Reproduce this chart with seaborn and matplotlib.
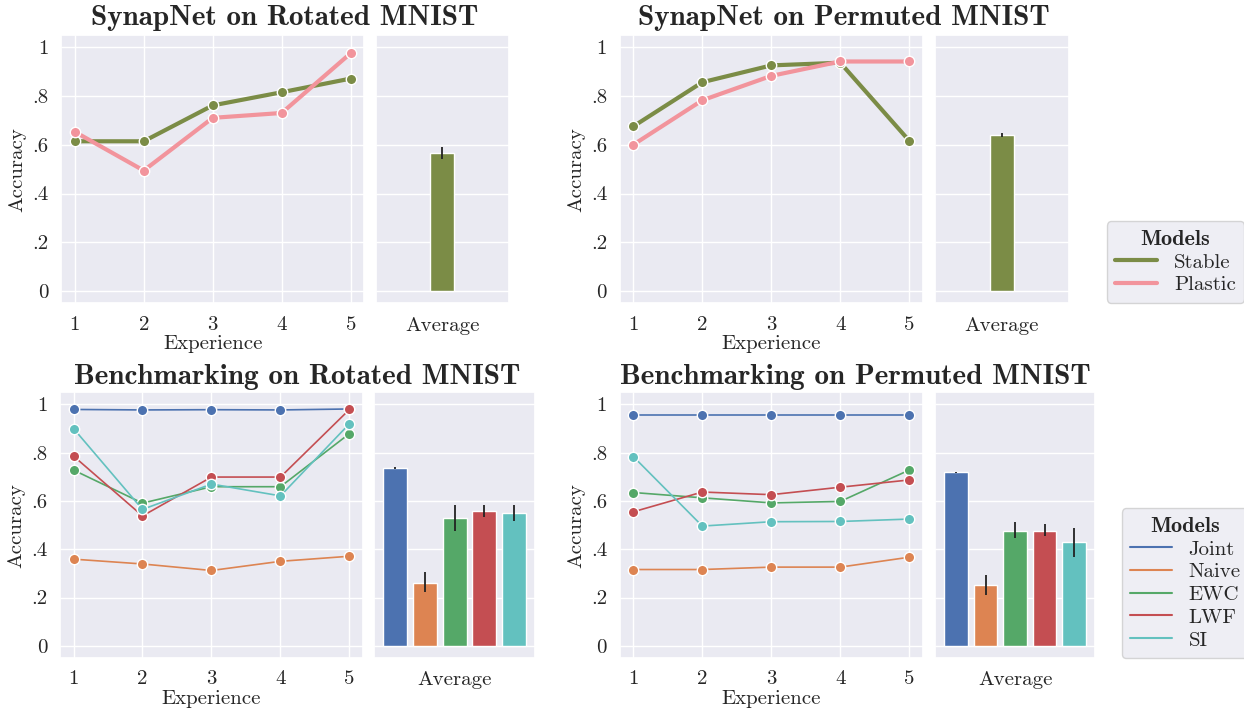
import numpy as np
import pandas as pd
import matplotlib
matplotlib.use("Agg")
import matplotlib.pyplot as plt
import seaborn as sns
from matplotlib.lines import Line2D

# experiences on the x axis
experiences = [1, 2, 3, 4, 5]

# SynapNet, rotated MNIST
rot_stable = [0.614, 0.614, 0.761, 0.815, 0.871]
rot_plastic = [0.653, 0.494, 0.710, 0.730, 0.975]
rot_syn_avg = [0.565]
rot_syn_err = [(0.540, 0.590)]

# SynapNet, permuted MNIST
perm_stable = [0.675, 0.856, 0.925, 0.936, 0.616]
perm_plastic = [0.600, 0.782, 0.882, 0.941, 0.941]
perm_syn_avg = [0.640]
perm_syn_err = [(0.633, 0.648)]

# benchmarks
bench_models = ["Joint", "Naive", "EWC", "LWF", "SI"]
rot_bench = {
    "Joint": [0.979, 0.977, 0.978, 0.977, 0.981],
    "Naive": [0.359, 0.339, 0.312, 0.350, 0.371],
    "EWC": [0.728, 0.591, 0.659, 0.659, 0.879],
    "LWF": [0.786, 0.538, 0.699, 0.699, 0.979],
    "SI": [0.900, 0.565, 0.670, 0.621, 0.920],
}
rot_bench_avg = [0.736, 0.262, 0.529, 0.558, 0.551]
rot_bench_err = [(0.733, 0.739), (0.224, 0.304), (0.475, 0.584), (0.533, 0.585), (0.519, 0.585)]

perm_bench = {
    "Joint": [0.956, 0.956, 0.956, 0.956, 0.956],
    "Naive": [0.316, 0.316, 0.326, 0.326, 0.367],
    "EWC": [0.635, 0.613, 0.592, 0.598, 0.728],
    "LWF": [0.555, 0.637, 0.626, 0.657, 0.687],
    "SI": [0.784, 0.496, 0.514, 0.515, 0.525],
}
perm_bench_avg = [0.718, 0.250, 0.477, 0.477, 0.430]
perm_bench_err = [(0.716, 0.720), (0.210, 0.293), (0.446, 0.514), (0.456, 0.504), (0.368, 0.490)]

syn_colors = {"Stable": "#7b8c46", "Plastic": "#f2949c"}
bench_colors = dict(zip(bench_models, ["#4c72b0", "#dd8452", "#55a868", "#c44e52", "#63c1bf"]))

sns.set_theme(style="darkgrid")
plt.rcParams["font.family"] = ["cmr10", "DejaVu Serif"]
plt.rcParams["axes.formatter.use_mathtext"] = True
plt.rcParams["mathtext.fontset"] = "cm"

TICK = 15
fig = plt.figure(figsize=(12.44, 7.12), dpi=100)

yticks = [0, 0.2, 0.4, 0.6, 0.8, 1.0]
ylabels = ["0", ".2", ".4", ".6", ".8", "1"]


def line_panel(ax, series, colors, lw):
    rows = []
    for name, vals in series.items():
        for e, v in zip(experiences, vals):
            rows.append({"Experience": e, "Accuracy": v, "Model": name})
    df = pd.DataFrame(rows)
    sns.lineplot(data=df, x="Experience", y="Accuracy", hue="Model", palette=colors,
                 marker="o", markersize=7.5, markeredgecolor="white", markeredgewidth=1,
                 linewidth=lw, ax=ax, legend=False)
    ax.set_xlim(0.8, 5.2)
    ax.set_ylim(-0.05, 1.05)
    ax.set_xticks(experiences)
    ax.set_xticklabels([str(e) for e in experiences], fontsize=TICK)
    ax.set_yticks(yticks)
    ax.set_yticklabels(ylabels, fontsize=TICK)
    ax.set_xlabel("Experience", fontsize=TICK, labelpad=1)
    ax.set_ylabel("Accuracy", fontsize=TICK, labelpad=4)
    ax.tick_params(pad=3)


def bar_panel(ax, names, avgs, errs, colors, width, gap):
    df = pd.DataFrame({"x": ["Average"] * len(names), "Model": names, "Accuracy": avgs})
    sns.barplot(data=df, x="x", y="Accuracy", hue="Model", palette=colors,
                width=width, gap=gap, errorbar=None, ax=ax, legend=False,
                saturation=1)
    bars = [p for p in ax.patches if p.get_height() > 0]
    for p, (lo, hi) in zip(bars, errs):
        cx = p.get_x() + p.get_width() / 2
        ax.vlines(cx, lo, hi, color="#222222", linewidth=1.3, zorder=5)
    ax.set_xlim(-0.5, 0.5)
    ax.set_ylim(-0.05, 1.05)
    ax.set_yticks(yticks)
    ax.set_yticklabels([])
    ax.set_ylabel("")
    ax.set_xlabel("")
    ax.set_xticks([0])
    ax.set_xticklabels(["Average"], fontsize=TICK)
    ax.tick_params(axis="y", length=0)


H_TOP, B_TOP = 0.377, 0.574
H_BOT, B_BOT = 0.373, 0.076
LW = 0.244

# top row
ax1 = fig.add_axes([0.049, B_TOP, LW, H_TOP])
ax2 = fig.add_axes([0.302, B_TOP, 0.107, H_TOP])
ax3 = fig.add_axes([0.498, B_TOP, LW, H_TOP])
ax4 = fig.add_axes([0.752, B_TOP, 0.107, H_TOP])
# bottom row
ax5 = fig.add_axes([0.048, B_BOT, LW, H_BOT])
ax6 = fig.add_axes([0.301, B_BOT, 0.129, H_BOT])
ax7 = fig.add_axes([0.498, B_BOT, LW, H_BOT])
ax8 = fig.add_axes([0.752, B_BOT, 0.128, H_BOT])

line_panel(ax1, {"Stable": rot_stable, "Plastic": rot_plastic}, syn_colors, 3)
bar_panel(ax2, ["Stable"], rot_syn_avg, rot_syn_err, syn_colors, 0.18, 0)
line_panel(ax3, {"Stable": perm_stable, "Plastic": perm_plastic}, syn_colors, 3)
bar_panel(ax4, ["Stable"], perm_syn_avg, perm_syn_err, syn_colors, 0.18, 0)

line_panel(ax5, rot_bench, bench_colors, 1.2)
bar_panel(ax6, bench_models, rot_bench_avg, rot_bench_err, bench_colors, 0.925, 0.2)
line_panel(ax7, perm_bench, bench_colors, 1.2)
bar_panel(ax8, bench_models, perm_bench_avg, perm_bench_err, bench_colors, 0.925, 0.2)

title_kw = dict(fontsize=21, family=["cmb10", "DejaVu Serif"], ha="center", va="center")
fig.text(0.229, 0.975, "SynapNet on Rotated MNIST", **title_kw)
fig.text(0.678, 0.975, "SynapNet on Permuted MNIST", **title_kw)
fig.text(0.239, 0.471, "Benchmarking on Rotated MNIST", **title_kw)
fig.text(0.688, 0.471, "Benchmarking on Permuted MNIST", **title_kw)

# legends
syn_handles = [Line2D([], [], color=c, linewidth=3) for c in syn_colors.values()]
fig.legend(syn_handles, list(syn_colors.keys()), title="Models",
           loc="center", bbox_to_anchor=(0.945, 0.632), fontsize=TICK,
           title_fontproperties={"family": "cmb10", "size": 16},
           frameon=True, borderpad=0.4, handlelength=2.0, labelspacing=0.2)
bench_handles = [Line2D([], [], color=c, linewidth=1.5) for c in bench_colors.values()]
fig.legend(bench_handles, bench_models, title="Models",
           loc="center", bbox_to_anchor=(0.953, 0.181), fontsize=TICK,
           title_fontproperties={"family": "cmb10", "size": 16},
           frameon=True, borderpad=0.4, handlelength=2.0, labelspacing=0.2)

fig.savefig("out.png", dpi=100)
